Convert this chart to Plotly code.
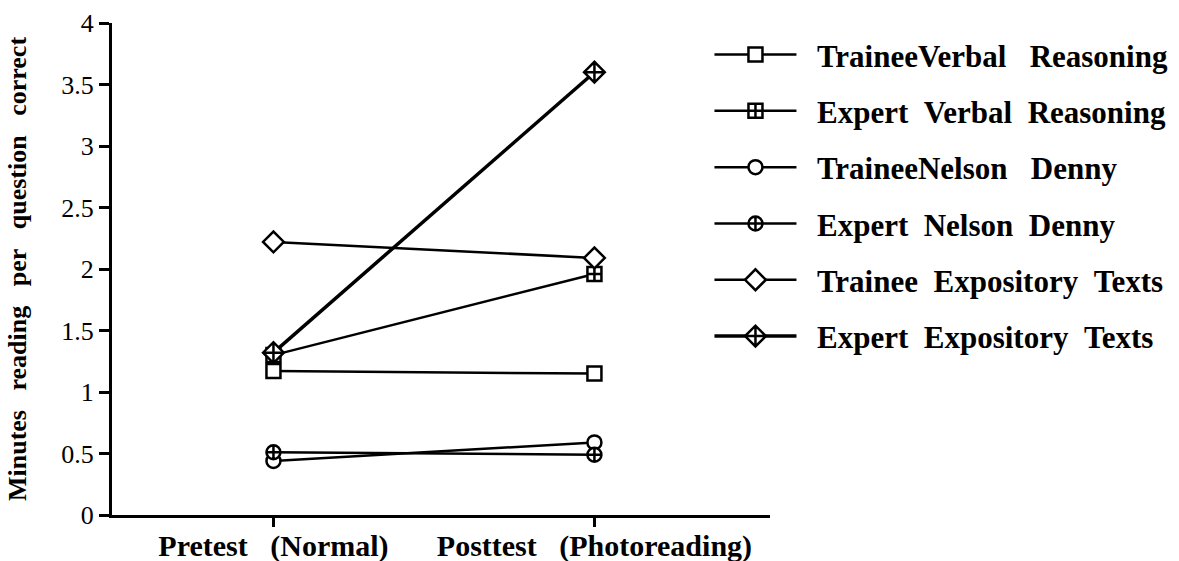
import plotly.graph_objects as go

categories = ["Pretest\u00a0\u00a0\u00a0(Normal)", "Posttest\u00a0\u00a0\u00a0(Photoreading)"]

series_names = [
    "TraineeVerbal\u00a0\u00a0\u00a0Reasoning",
    "Expert\u00a0\u00a0Verbal\u00a0\u00a0Reasoning",
    "TraineeNelson\u00a0\u00a0\u00a0Denny",
    "Expert\u00a0\u00a0Nelson\u00a0\u00a0Denny",
    "Trainee\u00a0\u00a0Expository\u00a0\u00a0Texts",
    "Expert\u00a0\u00a0Expository\u00a0\u00a0Texts",
]

trainee_verbal = [1.17, 1.15]
expert_verbal = [1.30, 1.96]
trainee_nelson = [0.44, 0.59]
expert_nelson = [0.51, 0.49]
trainee_expository = [2.22, 2.09]
expert_expository = [1.32, 3.60]

series_values = [trainee_verbal, expert_verbal, trainee_nelson,
                 expert_nelson, trainee_expository, expert_expository]
symbols = ["square", "square-cross", "circle", "circle-cross", "diamond", "diamond-cross"]
line_widths = [2.5, 2.5, 2.5, 2.5, 2.5, 3.5]
marker_sizes = [14, 14, 14, 14, 16, 16]

serif = "Liberation Serif, Times New Roman, serif"

fig = go.Figure()
for i, (name, vals, sym, lw, ms) in enumerate(zip(series_names, series_values, symbols, line_widths, marker_sizes)):
    fig.add_trace(go.Scatter(
        x=categories, y=vals, name="\u00a0\u00a0" + name, mode="lines+markers",
        legendgroup=f"g{i}",
        line=dict(color="black", width=lw),
        marker=dict(symbol=sym, size=ms, color="white",
                    line=dict(color="black", width=2.5)),
    ))

fig.update_layout(
    width=1179, height=561,
    margin=dict(l=112, r=409, t=23, b=46, autoexpand=False),
    paper_bgcolor="white", plot_bgcolor="white",
    font=dict(family=serif, color="black"),
    showlegend=True,
    legend=dict(
        x=0.908, xanchor="left", y=0.99, yanchor="top",
        font=dict(family=serif, size=31, color="black", weight="bold"),
        bgcolor="rgba(0,0,0,0)", itemwidth=82, tracegroupgap=13,
    ),
    xaxis=dict(
        type="category", range=[-0.503, 1.547], automargin=False,
        showline=True, linecolor="black", linewidth=3,
        ticks="outside", ticklen=9, tickwidth=3, tickcolor="black",
        ticklabelstandoff=-7,
        tickfont=dict(family=serif, size=30, color="black", weight="bold"),
        showgrid=False, zeroline=False,
    ),
    yaxis=dict(
        range=[0, 4], automargin=False,
        tickvals=[0, 0.5, 1, 1.5, 2, 2.5, 3, 3.5, 4],
        ticktext=["0", "0.5", "1", "1.5", "2", "2.5", "3", "3.5", "4"],
        showline=True, linecolor="black", linewidth=3,
        ticks="outside", ticklen=10, tickwidth=3, tickcolor="black",
        tickfont=dict(family=serif, size=26, color="black"),
        showgrid=False, zeroline=False,
        title=dict(text="Minutes\u00a0\u00a0\u00a0reading\u00a0\u00a0\u00a0per\u00a0\u00a0\u00a0question\u00a0\u00a0\u00a0correct",
                   font=dict(family=serif, size=26, color="black", weight="bold"),
                   standoff=28),
    ),
)

fig.write_html("out.html", config={"displayModeBar": False},
               post_script="document.body.style.margin='0px';")
